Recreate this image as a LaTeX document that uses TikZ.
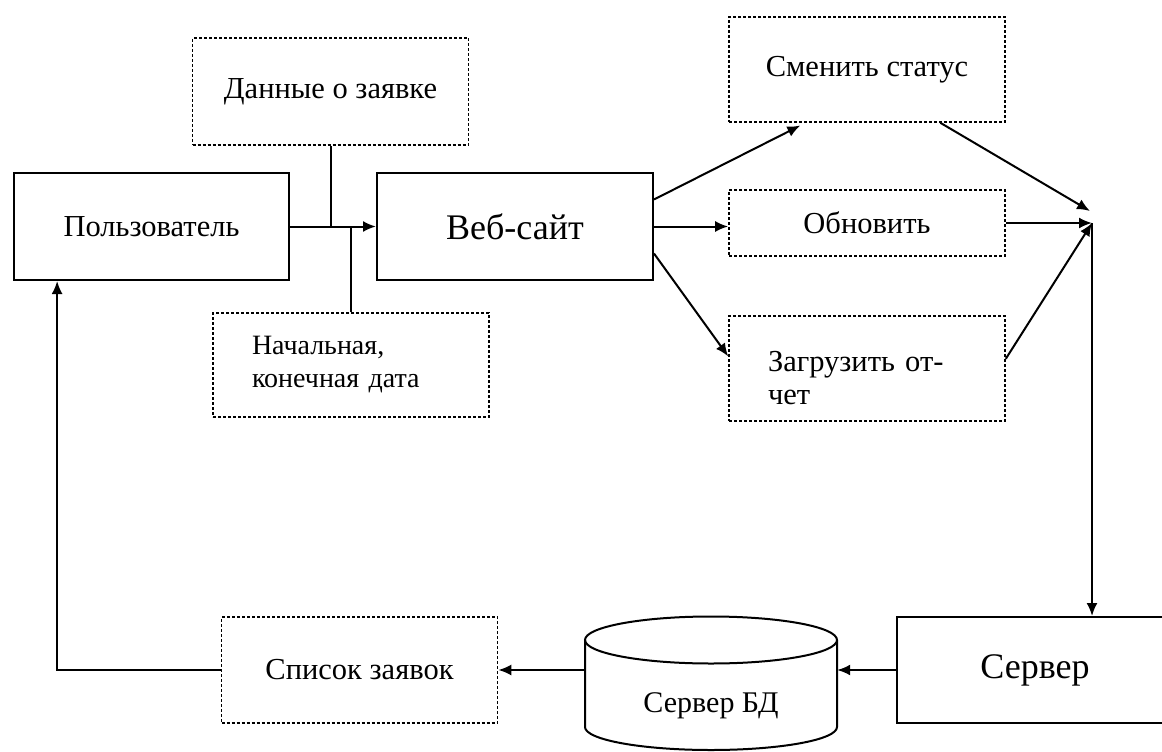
\documentclass[tikz,border=0pt]{standalone}
\usepackage{fontspec}
\setmainfont{Liberation Serif}
\newfontfamily\timesfont{Liberation Serif}
\usetikzlibrary{arrows.meta}

\begin{document}
\begin{tikzpicture}
[x=1pt,y=-1pt,
  boxdecorate/.style={shape=rectangle,draw,line width=2pt,inner sep=0pt,
    font=\timesfont\fontsize{30.5}{33}\selectfont},%
  solidbox/.style={boxdecorate},%
  dashbox/.style={boxdecorate,line width=1.6pt,dash pattern=on 3pt off 2pt},%
  notebox/.style={dashbox,align=left,text width=198pt,inner xsep=39pt},%
  linedecorate/.style={line width=2pt},%
  arrowdecorate/.style={linedecorate,-{Latex[length=13pt,width=11pt]}}]
\useasboundingbox (0,0) rectangle (1162,752);
%% solid blocks
\node (user) at (151.5,226.5) [solidbox,minimum width=275pt,minimum height=107pt] {Пользователь};
\node (web) at (515,226.5) [solidbox,minimum width=276pt,minimum height=107pt,
  font=\timesfont\fontsize{36}{38}\selectfont] {Веб-сайт};
\node (server) at (1035,670) [solidbox,minimum width=276pt,minimum height=106pt,
  font=\timesfont\fontsize{36}{38}\selectfont] {Сервер};
%% dashed blocks
\foreach \nodename/\x/\y/\h/\caption in {
  data/330.5/91.5/107/{Данные о заявке}, status/867/69.5/105/{Сменить статус},
  update/867/223/66/{Обновить}, list/359.5/670/106/{Список заявок}}
{
  \node (\nodename) at (\x,\y) [dashbox,minimum width=276pt,minimum height=\h pt] {\caption};
}
\node (dates) at (351,365) [notebox,minimum height=104pt,
  font=\timesfont\fontsize{28}{33}\selectfont] {Начальная,\\конечная дата};
\node (report) at (867,368.5) [notebox,minimum height=105pt,text height=40pt]
  {Загрузить от-\\чет};
%% database
\node (db) at (711,706) [inner sep=0pt,minimum width=252pt,
  font=\timesfont\fontsize{30}{31}\selectfont] {Сервер БД};
\draw[linedecorate] (711,640) ellipse [x radius=126pt,y radius=23.5pt];
\draw[linedecorate] (585,640) -- (585,727)
  arc [start angle=180,end angle=360,x radius=126pt,y radius=23pt] -- (837,640);
%% hub points
\coordinate (hub) at (1092,223);
\coordinate (hubtop) at (1090,211);
%% edges or lines
\draw[arrowdecorate] (user.east) -- (web.west);
\draw[linedecorate] (data.south) -- (data.south |- user.east);
\draw[linedecorate] (dates.north) -- (dates.north |- web.west);
\draw[arrowdecorate,shorten >=6pt] (web.11) -- (status.221);
\draw[arrowdecorate] (web.east) -- (web.east -| update.west);
\draw[arrowdecorate] (web.-11) -- (report.175);
\draw[arrowdecorate] (status.-36) -- (hubtop);
\draw[arrowdecorate] (update.east) -- (hub);
\draw[arrowdecorate] (report.4) -- (hub);
\draw[arrowdecorate] (hub) -- (hub |- server.north);
\draw[arrowdecorate] (server.west) -- (server.west -| db.east);
\draw[arrowdecorate] (db.west |- list.east) -- (list.east);
\draw[arrowdecorate] (list.west) -| (user.210);
\end{tikzpicture}
\end{document}
